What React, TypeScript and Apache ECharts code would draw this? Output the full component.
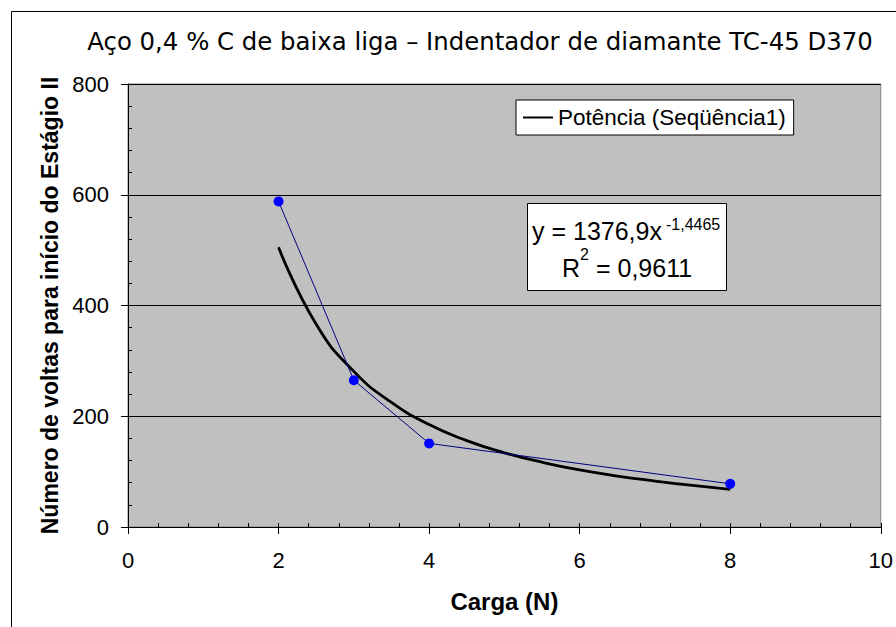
import React, { useEffect, useRef } from "react";
import * as echarts from "echarts";

const titleText = "Aço 0,4 % C de baixa liga – Indentador de diamante TC-45 D370";
const xAxisName = "Carga (N)";
const yAxisName = "Número de voltas para início do Estágio II";
const seriesName = "Seqüência1";
const trendName = "Potência (Seqüência1)";

const cargaN = [2, 3, 4, 8];
const voltas = [588, 265, 151, 78];

const trendX = [2, 2.5, 3, 3.5, 4, 4.5, 5, 5.5, 6, 6.5, 7, 7.5, 8];
const trendY = [505, 366, 281, 225, 185, 156, 134, 117, 103, 92, 83, 75, 68];

const equationMain = "y = 1376,9x";
const equationExp = "-1,4465";
const r2Label = "R";
const r2Exp = "2";
const r2Rest = " = 0,9611";

export default function App() {
  const ref = useRef<HTMLDivElement>(null);
  useEffect(() => {
    if (!ref.current) return;
    const chart = echarts.init(ref.current, null, { renderer: "svg" });
    const font = "'Liberation Sans', Arial, sans-serif";
    chart.setOption({
      animation: false,
      backgroundColor: "#ffffff",
      title: {
        text: titleText,
        left: 475,
        top: 24,
        textAlign: "center",
        textStyle: {
          fontFamily: "'DejaVu Sans', Verdana, sans-serif",
          fontSize: 24.4,
          fontWeight: "normal",
          color: "#000",
        },
      },
      legend: {
        data: [trendName],
        left: 516,
        top: 100,
        orient: "horizontal",
        backgroundColor: "#ffffff",
        borderColor: "#000",
        borderWidth: 1,
        borderRadius: 0,
        padding: [6, 8, 6, 7],
        itemWidth: 30,
        itemHeight: 2,
        icon: "rect",
        textStyle: { fontFamily: font, fontSize: 22.5, color: "#000" },
      },
      grid: {
        left: 128,
        top: 84,
        right: 15,
        bottom: 100,
        show: true,
        backgroundColor: "#C0C0C0",
        borderColor: "#808080",
        borderWidth: 1,
      },
      xAxis: [
        {
          type: "value",
          min: 0,
          max: 10,
          interval: 2,
          name: xAxisName,
          nameLocation: "middle",
          nameGap: 62,
          nameTextStyle: { fontFamily: font, fontSize: 24, fontWeight: "bold", color: "#000" },
          axisLine: { show: true, onZero: false, lineStyle: { color: "#000", width: 1 } },
          axisTick: { show: true, inside: false, length: 7, lineStyle: { color: "#000" } },
          axisLabel: { fontFamily: font, fontSize: 22, color: "#000", margin: 22 },
          splitLine: { show: false },
        },
        {
          type: "value",
          min: 0,
          max: 10,
          interval: 0.4,
          position: "bottom",
          axisLine: { show: false },
          axisTick: { show: true, inside: true, length: 4, lineStyle: { color: "#000" } },
          axisLabel: { show: false },
          splitLine: { show: false },
        },
      ],
      yAxis: [
        {
          type: "value",
          min: 0,
          max: 800,
          interval: 200,
          name: yAxisName,
          nameLocation: "middle",
          nameGap: 66,
          nameRotate: 90,
          nameTextStyle: { fontFamily: font, fontSize: 23, fontWeight: "bold", color: "#000" },
          axisLine: { show: true, onZero: false, lineStyle: { color: "#000", width: 1 } },
          axisTick: { show: true, inside: false, length: 7, lineStyle: { color: "#000" } },
          axisLabel: { fontFamily: font, fontSize: 22, color: "#000", margin: 19 },
          splitLine: { show: true, lineStyle: { color: "#000", width: 1 } },
        },
        {
          type: "value",
          min: 0,
          max: 800,
          interval: 40,
          position: "left",
          axisLine: { show: false },
          axisTick: { show: true, inside: true, length: 4, lineStyle: { color: "#000" } },
          axisLabel: { show: false },
          splitLine: { show: false },
        },
      ],
      series: [
        {
          name: seriesName,
          type: "line",
          data: cargaN.map((x, i) => [x, voltas[i]]),
          symbol: "circle",
          symbolSize: 10,
          itemStyle: { color: "#0000FF" },
          lineStyle: { color: "#000080", width: 1 },
          z: 3,
        },
        {
          name: trendName,
          type: "line",
          data: trendX.map((x, i) => [x, trendY[i]]),
          smooth: true,
          showSymbol: false,
          symbol: "none",
          itemStyle: { color: "#000" },
          lineStyle: { color: "#000", width: 2.8 },
          z: 2,
        },
      ],
      graphic: [
        {
          type: "rect",
          shape: { x: 11.5, y: 11.5, width: 900, height: 640 },
          style: { fill: "none", stroke: "#000", lineWidth: 1 },
          silent: true,
        },
        {
          type: "rect",
          shape: { x: 527.5, y: 203.5, width: 199, height: 87 },
          style: { fill: "#fff", stroke: "#000", lineWidth: 1 },
          z: 10,
        },
        {
          type: "text",
          x: 532,
          y: 231,
          style: { text: equationMain, font: `25px ${font}`, fill: "#000", textVerticalAlign: "middle" },
          z: 11,
        },
        {
          type: "text",
          x: 666,
          y: 224,
          style: { text: equationExp, font: `16px ${font}`, fill: "#000", textVerticalAlign: "middle" },
          z: 11,
        },
        {
          type: "text",
          x: 562,
          y: 268,
          style: { text: r2Label, font: `25px ${font}`, fill: "#000", textVerticalAlign: "middle" },
          z: 11,
        },
        {
          type: "text",
          x: 580,
          y: 254,
          style: { text: r2Exp, font: `16px ${font}`, fill: "#000", textVerticalAlign: "middle" },
          z: 11,
        },
        {
          type: "text",
          x: 589,
          y: 268,
          style: { text: r2Rest, font: `25px ${font}`, fill: "#000", textVerticalAlign: "middle" },
          z: 11,
        },
      ],
    });
    return () => chart.dispose();
  }, []);
  return <div ref={ref} style={{ width: 896, height: 627, position: "absolute", left: 0, top: 0 }} />;
}
